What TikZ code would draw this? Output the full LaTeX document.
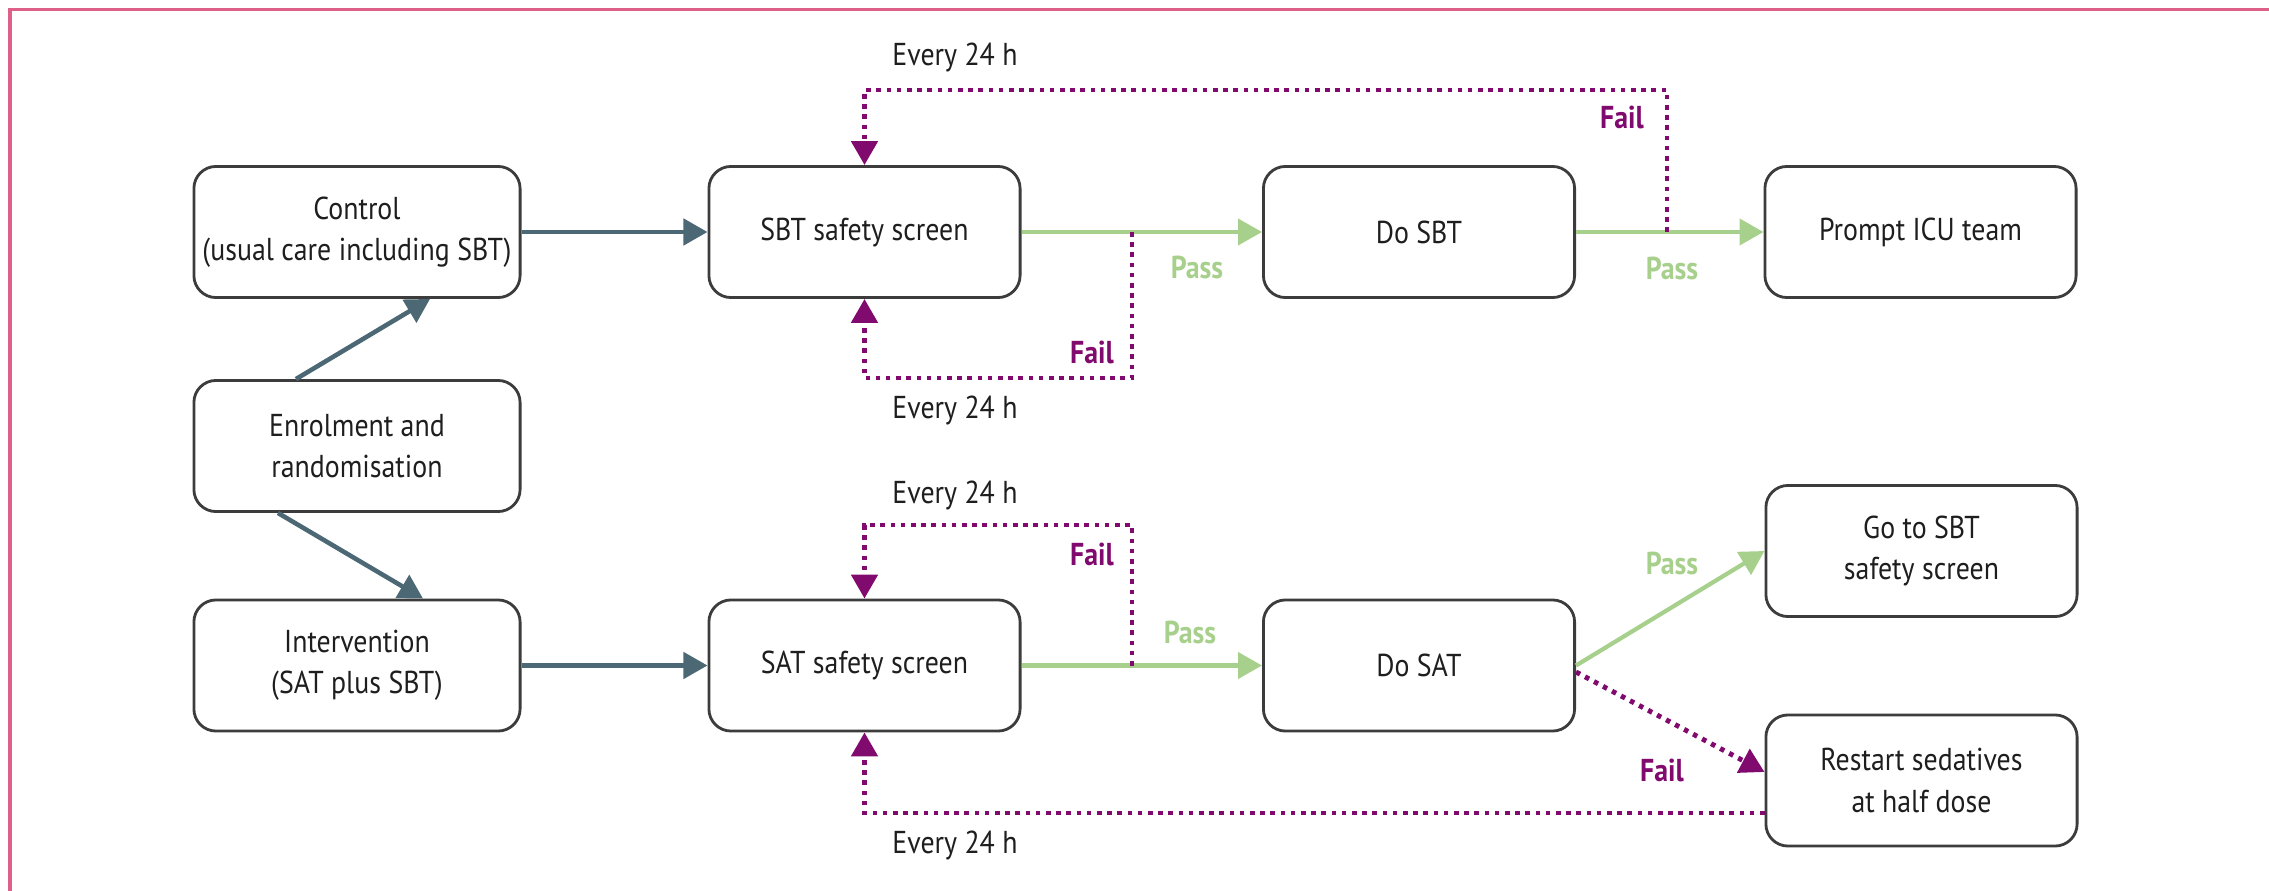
\documentclass[tikz,border=0pt]{standalone}
\usepackage{fontspec}
\setmainfont{PT Sans}[FakeStretch=0.88]
\usetikzlibrary{arrows.meta}

\definecolor{framepink}{RGB}{222,96,136}
\definecolor{boxline}{RGB}{60,60,60}
\definecolor{ink}{RGB}{30,30,30}
\definecolor{slate}{RGB}{76,104,116}
\definecolor{passgreen}{RGB}{168,208,141}
\definecolor{failpurple}{RGB}{128,10,110}

\tikzset{
  box/.style={draw=boxline, line width=0.8pt, rounded corners=0.22cm,
    minimum width=3.11cm, minimum height=1.31cm, align=center, text=ink, inner sep=0pt},
  widebox/.style={box, minimum width=3.26cm},
  tip/.style={-{Triangle[length=0.24cm,width=0.26cm]}},
  flow/.style={draw=slate, line width=1.3pt, tip},
  passline/.style={draw=passgreen, line width=1.2pt, tip},
  failline/.style={draw=failpurple, line width=1.4pt, dash pattern=on 1.3pt off 1.6pt, tip},
  passlbl/.style={text=passgreen, font=\fontsize{9}{11.7}\selectfont\bfseries},
  faillbl/.style={text=failpurple, font=\fontsize{9}{11.7}\selectfont\bfseries},
  dailylbl/.style={text=ink},
}

\begin{document}
\begin{tikzpicture}[x=0.01cm, y=-0.01cm, font=\fontsize{9}{11.7}\selectfont]
  \useasboundingbox (0,0) rectangle (2269,891);
  \draw[framepink, line width=1pt] (10,891) -- (10,9.5) -- (2269,9.5);

  % boxes
  \node[widebox] (ctrl) at (357,232) {Control\\(usual care including SBT)};
  \node[widebox] (enrol) at (357,446) {Enrolment and\\randomisation};
  \node[widebox] (interv) at (357,665.5) {Intervention\\(SAT plus SBT)};
  \node[box] (sbtscr) at (864.5,232) {SBT safety screen};
  \node[box] (dosbt) at (1419,232) {Do SBT};
  \node[box] (prompt) at (1920.5,232) {Prompt ICU team};
  \node[box] (satscr) at (864.5,665.5) {SAT safety screen};
  \node[box] (dosat) at (1419,665.5) {Do SAT};
  \node[box] (gosbt) at (1921.5,551) {Go to SBT\\safety screen};
  \node[box] (restart) at (1921.5,780.5) {Restart sedatives\\at half dose};

  % branch points of the fail loops
  \coordinate (j1) at (1132,232);
  \coordinate (k1) at (1132,378);
  \coordinate (j2) at (1667,232);
  \coordinate (k2) at (1667,90);
  \coordinate (j3) at (1132,665.5);
  \coordinate (k3) at (1132,525);

  \draw[flow] ([xshift=-0.61cm]enrol.north) -- ([xshift=0.73cm]ctrl.south);
  \draw[flow] ([xshift=-0.79cm]enrol.south) -- ([xshift=0.66cm]interv.north);
  \draw[flow] (ctrl) -- (sbtscr);
  \draw[flow] (interv) -- (satscr);

  \draw[passline] (sbtscr) -- (dosbt);
  \draw[passline] (dosbt) -- (prompt);
  \draw[passline] (satscr) -- (dosat);
  \draw[passline] (dosat.east) -- (gosbt.west);

  \draw[failline] (j1) -- (k1) -| (sbtscr.south);
  \draw[failline] (j2) -- (k2) -| (sbtscr.north);
  \draw[failline] (j3) -- (k3) -| (satscr.north);
  \draw[failline] ([yshift=-0.065cm]dosat.east) -- ([yshift=0.085cm]restart.west);
  \draw[failline] ([yshift=-0.325cm]restart.west) -| (satscr.south);

  % labels
  \node[dailylbl] (d1) at (955,57) {Every 24 h};
  \node[dailylbl] (d2) at (955,410) {Every 24 h};
  \node[dailylbl] (d3) at (955,495) {Every 24 h};
  \node[dailylbl] (d4) at (955,845) {Every 24 h};
  \node[faillbl] (f1) at (1092,352) {Fail};
  \node[faillbl] (f2) at (1622,117) {Fail};
  \node[faillbl] (f3) at (1092,554) {Fail};
  \node[faillbl] (f4) at (1662,770) {Fail};
  \node[passlbl] (p1) at (1197,267) {Pass};
  \node[passlbl] (p2) at (1672,268) {Pass};
  \node[passlbl] (p3) at (1190,632) {Pass};
  \node[passlbl] (p4) at (1672,563) {Pass};
\end{tikzpicture}
\end{document}
